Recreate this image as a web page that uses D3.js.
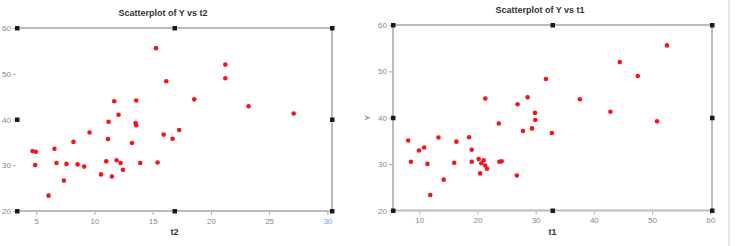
<!DOCTYPE html>
<html>
<head>
<meta charset="utf-8">
<script src="https://cdn.jsdelivr.net/npm/d3@7/dist/d3.min.js"></script>
<style>
  body { margin: 0; background: #fff; }
  svg { display: block; font-family: "Liberation Sans", Arial, sans-serif; }
  .tick text { fill: #888; font-size: 8px; }
  .tick line { stroke: #aaa; }
</style>
</head>
<body>
<script>
// observations, same order in every array
const Y  = [55.6, 52.0, 49.0, 48.35, 44.4, 44.15, 44.0, 42.9, 41.3, 41.05, 39.5, 39.25, 38.75,
            37.7, 37.15, 36.7, 35.8, 35.75, 35.1, 34.85, 33.6, 33.1, 32.95, 31.1, 30.85, 30.6,
            30.5, 30.5, 30.5, 30.3, 30.2, 30.05, 29.7, 29.0, 28.0, 27.55, 26.65, 23.35];
const t2 = [15.28, 21.24, 21.24, 16.17, 18.57, 13.59, 11.7, 23.24, 27.11, 12.07, 11.21, 13.53, 13.59,
            17.28, 9.58, 15.94, 16.71, 11.16, 8.2, 13.22, 6.57, 4.68, 4.97, 11.9, 11.01, 15.42,
            6.74, 12.24, 13.93, 7.6, 8.55, 4.91, 9.12, 12.45, 10.56, 11.5, 7.38, 6.06];
const t1 = [52.57, 44.46, 47.55, 31.77, 28.62, 21.36, 37.6, 26.9, 42.85, 29.89, 29.94, 50.86, 23.68,
            29.37, 27.83, 32.8, 18.57, 13.31, 8.11, 16.39, 10.85, 19.02, 9.96, 20.22, 21.07, 24.16,
            8.59, 19.02, 23.77, 16.02, 20.68, 11.42, 21.36, 21.66, 20.46, 26.77, 14.21, 11.9];

const yTicks = [20, 30, 40, 50, 60];
const t2Ticks = [5, 10, 15, 20, 25, 30];
const t1Ticks = [10, 20, 30, 40, 50, 60];

const svg = d3.select("body").append("svg").attr("width", 735).attr("height", 246);

// faint separator on the right edge
svg.append("line")
  .attr("x1", 729).attr("x2", 729).attr("y1", 0).attr("y2", 246)
  .attr("stroke", "#e6e6e6").attr("stroke-width", 2);

function panel(opt) {
  const g = svg.append("g");
  const x = d3.scaleLinear().domain(opt.xDomain).range(opt.xRange);
  const y = d3.scaleLinear().domain([20, 60]).range(opt.yRange);
  const [l, r] = opt.xRange;
  const [b, t] = opt.yRange;

  // frame
  const frame = g.append("g").attr("stroke", "#bbbbbb").attr("stroke-width", 2).attr("fill", "none");
  frame.append("line").attr("x1", l).attr("x2", r).attr("y1", t).attr("y2", t);
  frame.append("line").attr("x1", r).attr("x2", r).attr("y1", t).attr("y2", b);
  frame.append("line").attr("x1", l).attr("x2", r).attr("y1", b).attr("y2", b);
  if (opt.leftLine) frame.append("line").attr("x1", l).attr("x2", l).attr("y1", t).attr("y2", b);

  const xa = g.append("g").attr("transform", `translate(0,${b + 1})`)
    .call(d3.axisBottom(x).tickValues(opt.xTicks).tickSize(3).tickPadding(3).tickFormat(d3.format("d")));
  xa.select(".domain").remove();
  if (opt.blueLast) xa.selectAll(".tick text").filter(d => d === 30).style("fill", "#7aa0d0");

  const ya = g.append("g").attr("transform", `translate(${l - 1},0)`)
    .call(d3.axisLeft(y).tickValues(yTicks).tickSize(3).tickPadding(2).tickFormat(d3.format("d")));
  ya.select(".domain").remove();

  // selection handles
  const mx = (l + r) / 2, my = (t + b) / 2;
  const handles = [[l, t], [mx, t], [r, t], [r, my], [r, b], [mx, b], [l, b], [l, my]];
  g.selectAll("rect.h").data(handles).enter().append("rect")
    .attr("x", d => d[0] - 2).attr("y", d => d[1] - 2)
    .attr("width", 4.5).attr("height", 4.5).attr("fill", "#1a1a1a");

  g.selectAll("circle").data(Y).enter().append("circle")
    .attr("cx", (d, i) => x(opt.xs[i]))
    .attr("cy", d => y(d))
    .attr("r", 2.3)
    .attr("fill", "#f5141e");

  g.append("text").attr("x", opt.titleX).attr("y", t - 12)
    .attr("text-anchor", "middle").attr("font-size", 9).attr("font-weight", "bold").attr("fill", "#333")
    .text(opt.title);
  g.append("text").attr("x", mx).attr("y", b + 24)
    .attr("text-anchor", "middle").attr("font-size", 9).attr("font-weight", "bold").attr("fill", "#333")
    .text(opt.xLabel);
  if (opt.yLabel) {
    g.append("text").attr("transform", `translate(${l - 23},${my}) rotate(-90)`)
      .attr("text-anchor", "middle").attr("font-size", 8).attr("fill", "#555")
      .text(opt.yLabel);
  }
}

panel({
  xs: t2, xDomain: [3.35, 30.4], xRange: [17, 332], yRange: [211, 28],
  xTicks: t2Ticks, title: "Scatterplot of Y vs t2", titleX: 163, xLabel: "t2",
  leftLine: false, blueLast: true
});

panel({
  xs: t1, xDomain: [5.5, 60.3], xRange: [393, 712], yRange: [210.5, 25],
  xTicks: t1Ticks, title: "Scatterplot of Y vs t1", titleX: 540, xLabel: "t1",
  leftLine: true, yLabel: "Y"
});
</script>
</body>
</html>
